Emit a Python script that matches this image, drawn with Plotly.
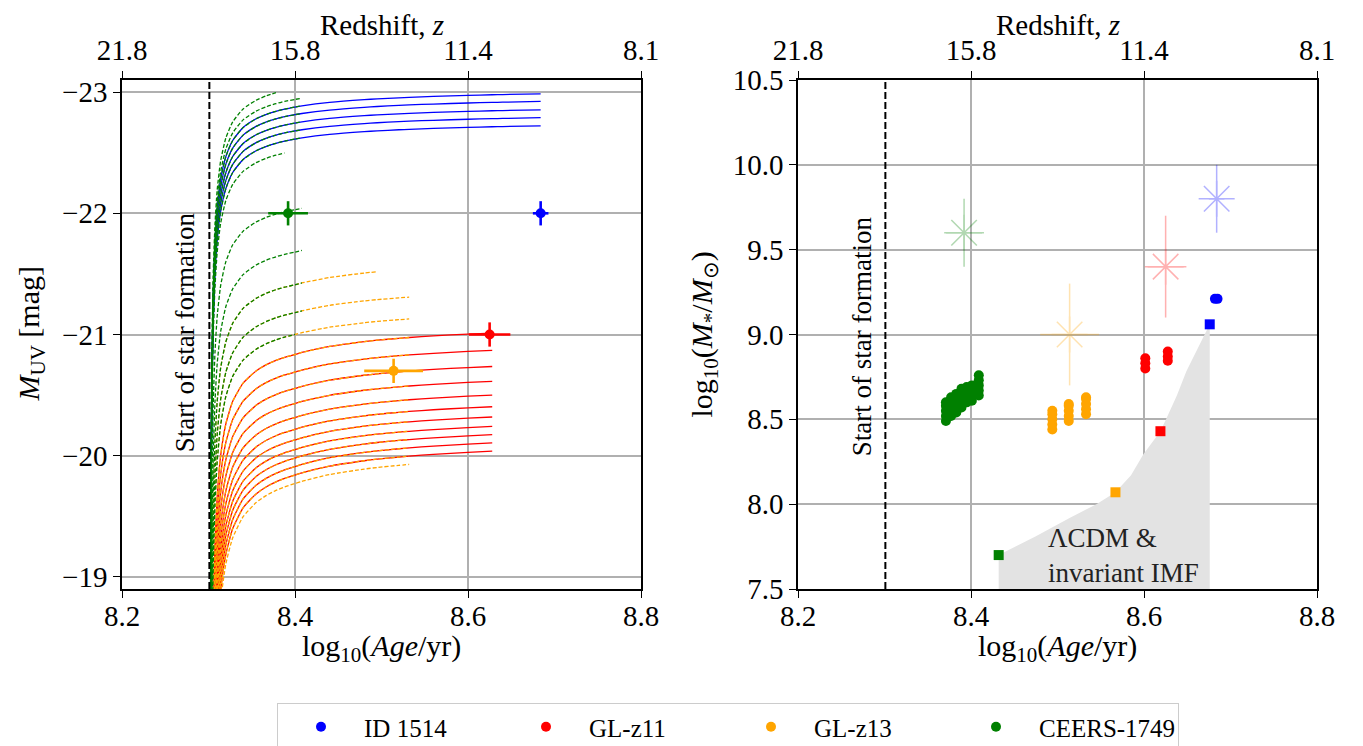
import plotly.graph_objects as go

# ---------------- data ----------------
# shared growth profile of the model tracks: magnitude offset vs log10(age), relative to log age 8.684
PROFILE_LOGAGE = [8.3014, 8.3020, 8.3028, 8.3040, 8.3055, 8.3075, 8.3100, 8.3140, 8.3200, 8.3280,
                  8.3400, 8.3550, 8.3670, 8.3780, 8.3880, 8.4000, 8.4080, 8.4400, 8.4800, 8.4950,
                  8.5200, 8.5320, 8.5600, 8.6000, 8.6280, 8.6400, 8.6840]
PROFILE_DMAG = [10.2, 5.25, 3.32, 2.24, 1.63, 1.23, 0.95, 0.707, 0.519, 0.385,
                0.278, 0.206, 0.169, 0.144, 0.126, 0.109, 0.0994, 0.0711, 0.0483, 0.0416,
                0.0327, 0.0289, 0.0214, 0.0127, 0.0079, 0.0061, 0.0]
REF_DMAG = 0.109  # profile value at log age 8.4

# model tracks: magnitude at log age 8.4, early (<8.4) / late (>8.4) stretch, end of track
BLUE_M84 = [-22.877, -22.814, -22.745, -22.68, -22.613]
BLUE_S_EARLY = [1.0, 1.0, 1.0, 1.0, 1.0]
BLUE_S_LATE = [1.0, 1.0, 1.0, 1.0, 1.0]
BLUE_END = [8.684, 8.684, 8.684, 8.684, 8.684]

GREEN_M84 = [-23.03, -22.94, -22.877, -22.814, -22.745, -22.68, -22.613, -22.515, -22.03, -21.68, -21.41, -21.18, -21.0]
GREEN_S_EARLY = [1.0, 1.0, 1.0, 1.0, 1.0, 1.0, 1.0, 1.0, 1.05, 1.1, 1.15, 1.2, 1.25]
GREEN_S_LATE = [1.0, 1.0, 1.0, 1.0, 1.0, 1.0, 1.0, 1.0, 1.2, 1.4, 1.6, 1.6, 1.6]
GREEN_END = [8.378, 8.408, 8.408, 8.408, 8.408, 8.408, 8.408, 8.388, 8.408, 8.408, 8.408, 8.408, 8.400]

RED_M84 = [-20.835, -20.69, -20.555, -20.43, -20.315, -20.217, -20.13, -20.05, -19.98, -19.91, -19.84]
RED_S_EARLY = [1.4, 1.42, 1.44, 1.46, 1.48, 1.5, 1.52, 1.54, 1.56, 1.58, 1.6]
RED_S_LATE = [1.75, 1.77, 1.79, 1.81, 1.83, 1.85, 1.87, 1.89, 1.91, 1.93, 1.95]
RED_END = [8.628] * 11

ORANGE_M84 = [-21.41, -21.18, -21.0, -20.835, -20.69, -20.555, -20.43, -20.315, -20.217, -20.13, -20.05, -19.98, -19.91, -19.84, -19.77]
ORANGE_S_EARLY = [1.15, 1.2, 1.25, 1.4, 1.42, 1.44, 1.46, 1.48, 1.5, 1.52, 1.54, 1.56, 1.58, 1.6, 1.62]
ORANGE_S_LATE = [1.6, 1.6, 1.6, 1.75, 1.77, 1.79, 1.81, 1.83, 1.85, 1.87, 1.89, 1.91, 1.93, 1.95, 1.97]
ORANGE_END = [8.495] + [8.532] * 14

# observed galaxies (left panel)
GALAXIES = ["ID 1514", "GL-z11", "GL-z13", "CEERS-1749"]
GAL_COLORS = ["#0000ff", "#ff0000", "#ffa500", "#008000"]
GAL_LOGAGE = [8.684, 8.625, 8.514, 8.392]
GAL_LOGAGE_ERR = [0.009, 0.024, 0.034, 0.023]
GAL_MUV = [-22.0, -21.0, -20.7, -22.0]
GAL_MUV_ERR = [0.1, 0.1, 0.1, 0.1]

# right panel: published stellar masses (faint asterisks)
PUB_MASS = [9.8, 9.4, 9.0, 9.6]
PUB_MASS_ERR = [0.2, 0.3, 0.3, 0.2]

# right panel: model stellar masses (circles)
BLUE_MASS_AGE = [8.682, 8.685]
BLUE_MASS = [9.21, 9.21]
RED_MASS_AGE = [8.6015, 8.6015, 8.6015, 8.6275, 8.6275, 8.6275]
RED_MASS = [8.80, 8.83, 8.86, 8.845, 8.87, 8.90]
ORANGE_MASS_AGE = [8.494] * 5 + [8.513] * 5 + [8.533] * 5
ORANGE_MASS = [8.44, 8.47, 8.50, 8.53, 8.55, 8.49, 8.52, 8.55, 8.58, 8.59, 8.53, 8.56, 8.59, 8.62, 8.63]
GREEN_MASS_AGE = [8.371] * 5 + [8.377] * 5 + [8.383] * 5 + [8.389] * 5 + [8.395] * 4 + [8.401] * 4 + [8.409] * 5
GREEN_MASS = [8.49, 8.52, 8.55, 8.58, 8.60,
              8.52, 8.55, 8.58, 8.61, 8.63,
              8.54, 8.57, 8.60, 8.63, 8.65,
              8.57, 8.60, 8.63, 8.66, 8.68,
              8.60, 8.63, 8.66, 8.69,
              8.61, 8.64, 8.67, 8.70,
              8.64, 8.67, 8.70, 8.73, 8.76]

# LCDM & invariant IMF limit (squares + shaded region)
LCDM_AGE = [8.432, 8.567, 8.619, 8.676]
LCDM_MASS = [7.70, 8.07, 8.43, 9.06]
LCDM_SQ_COLORS = ["#008000", "#ffa500", "#ff0000", "#0000ff"]
LIMIT_EDGE_AGE = [8.432, 8.4745, 8.5145, 8.545, 8.567, 8.585, 8.5993, 8.619, 8.6263, 8.638, 8.649, 8.663, 8.676]
LIMIT_EDGE_MASS = [7.70, 7.81, 7.92, 8.00, 8.07, 8.17, 8.294, 8.43, 8.509, 8.64, 8.784, 8.93, 9.06]

START_SF = 8.301
X_TICKS = [8.2, 8.4, 8.6, 8.8]
X_TICKTEXT = ["8.2", "8.4", "8.6", "8.8"]
Z_TICKTEXT = ["21.8", "15.8", "11.4", "8.1"]
MUV_TICKS = [-23, -22, -21, -20, -19]
MUV_TICKTEXT = ["\u221223", "\u221222", "\u221221", "\u221220", "\u221219"]
MASS_TICKS = [7.5, 8.0, 8.5, 9.0, 9.5, 10.0, 10.5]
MASS_TICKTEXT = ["7.5", "8.0", "8.5", "9.0", "9.5", "10.0", "10.5"]

FONT = "Liberation Serif, serif"
GRID = "#b0b0b0"

# page layout (the html page puts the figure 8 px from the window's top-left corner)
OFF = 8
W, H = 1363, 746
PLOT_L, PLOT_R, PLOT_T, PLOT_B = 122, 1317, 80, 589   # window pixels of the combined plot area
ML, MT = PLOT_L - OFF, PLOT_T - OFF
PW, PH = PLOT_R - PLOT_L, PLOT_B - PLOT_T
MR, MB = W - ML - PW, H - MT - PH


def px(xw):
    return (xw - PLOT_L) / PW


def py(yw):
    return (PLOT_B - yw) / PH


fig = go.Figure()


def track(m84, s_early, s_late, end):
    xs, ys = [], []
    for xv, dv in zip(PROFILE_LOGAGE, PROFILE_DMAG):
        if xv > end + 1e-9:
            break
        s = s_early if xv <= 8.4 else s_late
        xs.append(xv)
        ys.append(m84 + s * (dv - REF_DMAG))
    return xs, ys


def add_family(m84s, se, sl, ends, color, dash):
    for m, a, b, e in zip(m84s, se, sl, ends):
        xs, ys = track(m, a, b, e)
        fig.add_trace(go.Scatter(x=xs, y=ys, mode="lines",
                                 line=dict(color=color, width=1.3, dash=dash, shape="spline", smoothing=0.5),
                                 showlegend=False, hoverinfo="skip", xaxis="x", yaxis="y"))


add_family(BLUE_M84, BLUE_S_EARLY, BLUE_S_LATE, BLUE_END, "#0000ff", "solid")
add_family(RED_M84, RED_S_EARLY, RED_S_LATE, RED_END, "#ff0000", "solid")
add_family(ORANGE_M84, ORANGE_S_EARLY, ORANGE_S_LATE, ORANGE_END, "#ffa500", "4px,2px")
add_family(GREEN_M84, GREEN_S_EARLY, GREEN_S_LATE, GREEN_END, "#008000", "4px,2px")

# start of star formation lines
for xa, ya, yr in [("x", "y", [-18.9, -23.1]), ("x2", "y2", [7.5, 10.5])]:
    fig.add_trace(go.Scatter(x=[START_SF, START_SF], y=yr, mode="lines",
                             line=dict(color="black", width=2, dash="7px,3px"),
                             showlegend=False, hoverinfo="skip", xaxis=xa, yaxis=ya))

# observed galaxies (left)
for name, c, xa, xe, ym, ye in zip(GALAXIES, GAL_COLORS, GAL_LOGAGE, GAL_LOGAGE_ERR, GAL_MUV, GAL_MUV_ERR):
    fig.add_trace(go.Scatter(x=[xa], y=[ym], mode="markers", name=name,
                             marker=dict(color=c, size=10),
                             error_x=dict(type="data", array=[xe], color=c, thickness=2.6, width=0),
                             error_y=dict(type="data", array=[ye], color=c, thickness=2.6, width=0),
                             xaxis="x", yaxis="y"))

# shaded LCDM limit
fig.add_trace(go.Scatter(x=LIMIT_EDGE_AGE + [LIMIT_EDGE_AGE[-1], LIMIT_EDGE_AGE[0]],
                         y=LIMIT_EDGE_MASS + [7.5, 7.5], mode="lines", fill="toself",
                         fillcolor="#e3e3e3", line=dict(width=0),
                         showlegend=False, hoverinfo="skip", xaxis="x2", yaxis="y2"))

# published masses (faint asterisks)
for c, xa, xe, m, me in zip(GAL_COLORS, GAL_LOGAGE, GAL_LOGAGE_ERR, PUB_MASS, PUB_MASS_ERR):
    fig.add_trace(go.Scatter(x=[xa], y=[m], mode="markers", opacity=0.3,
                             marker=dict(symbol="asterisk-open", size=30, color=c, line=dict(color=c, width=1.5)),
                             error_x=dict(type="data", array=[xe], color=c, thickness=1.5, width=0),
                             error_y=dict(type="data", array=[me], color=c, thickness=1.5, width=0),
                             showlegend=False, hoverinfo="skip", xaxis="x2", yaxis="y2"))

# model masses (circles)
for xs, ys, c in [(GREEN_MASS_AGE, GREEN_MASS, "#008000"), (ORANGE_MASS_AGE, ORANGE_MASS, "#ffa500"),
                  (RED_MASS_AGE, RED_MASS, "#ff0000"), (BLUE_MASS_AGE, BLUE_MASS, "#0000ff")]:
    fig.add_trace(go.Scatter(x=xs, y=ys, mode="markers", marker=dict(color=c, size=10),
                             showlegend=False, hoverinfo="skip", xaxis="x2", yaxis="y2"))

# LCDM squares
fig.add_trace(go.Scatter(x=LCDM_AGE, y=LCDM_MASS, mode="markers",
                         marker=dict(symbol="square", size=10, color=LCDM_SQ_COLORS),
                         showlegend=False, hoverinfo="skip", xaxis="x2", yaxis="y2"))

# invisible traces to activate the top redshift axes
fig.add_trace(go.Scatter(x=[8.5], y=[-21], mode="markers", marker=dict(opacity=0), showlegend=False,
                         hoverinfo="skip", xaxis="x3", yaxis="y"))
fig.add_trace(go.Scatter(x=[8.5], y=[9], mode="markers", marker=dict(opacity=0), showlegend=False,
                         hoverinfo="skip", xaxis="x4", yaxis="y2"))

L_DOM = [0, px(641)]
R_DOM = [px(798), 1]

axis_common = dict(showline=True, linecolor="black", linewidth=1.6, ticks="outside", ticklen=7,
                   tickwidth=1.4, tickcolor="black", tickfont=dict(family=FONT, size=29, color="black"),
                   zeroline=False, automargin=False)
title_font = dict(family=FONT, size=30, color="black")

annotations = []
for xc in [(122 + 641) / 2, (798 + 1317) / 2]:
    annotations.append(dict(x=px(xc), y=py(25), xref="paper", yref="paper", text="Redshift, <i>z</i>",
                            showarrow=False, font=dict(family=FONT, size=29, color="black"),
                            xanchor="center", yanchor="middle"))
    annotations.append(dict(x=px(xc), y=py(648), xref="paper", yref="paper",
                            text="log<sub>10</sub>(<i>Age</i>/yr)",
                            showarrow=False, font=title_font, xanchor="center", yanchor="middle"))
annotations += [
    dict(x=px(30), y=0.5, xref="paper", yref="paper", text="<i>M</i><sub>UV</sub> [mag]", textangle=-90,
         showarrow=False, font=title_font, xanchor="center", yanchor="middle"),
    dict(x=px(703), y=0.5, xref="paper", yref="paper",
         text="log<sub>10</sub>(<i>M</i><sub>*</sub>/<i>M</i><sub>\u2299</sub>)", textangle=-90,
         showarrow=False, font=title_font, xanchor="center", yanchor="middle"),
    dict(x=8.273, y=-21.02, xref="x", yref="y", text="Start of star formation", textangle=-90,
         showarrow=False, font=dict(family=FONT, size=27, color="black")),
    dict(x=8.274, y=8.99, xref="x2", yref="y2", text="Start of star formation", textangle=-90,
         showarrow=False, font=dict(family=FONT, size=27, color="black")),
    dict(x=8.487, y=7.70, xref="x2", yref="y2", text="\u039bCDM &amp;<br>invariant IMF", align="left",
         xanchor="left", yanchor="middle", showarrow=False, font=dict(family=FONT, size=27, color="#222222")),
]

fig.update_layout(
    width=W, height=H, paper_bgcolor="white", plot_bgcolor="white",
    margin=dict(l=ML, r=MR, t=MT, b=MB, autoexpand=False),
    font=dict(family=FONT, color="black"),
    xaxis=dict(domain=L_DOM, range=[8.2, 8.8], anchor="y", tickvals=X_TICKS, ticktext=X_TICKTEXT,
               showgrid=True, gridcolor=GRID, gridwidth=1.5, mirror=True, ticklabelstandoff=-7, **axis_common),
    yaxis=dict(domain=[0, 1], range=[-18.9, -23.1], anchor="x", tickvals=MUV_TICKS, ticktext=MUV_TICKTEXT,
               showgrid=True, gridcolor=GRID, gridwidth=1.5, mirror=True, **axis_common),
    xaxis3=dict(range=[8.2, 8.8], overlaying="x", side="top", anchor="y", tickvals=X_TICKS,
                ticktext=Z_TICKTEXT, showgrid=False, **axis_common),
    xaxis2=dict(domain=R_DOM, range=[8.2, 8.8], anchor="y2", tickvals=X_TICKS, ticktext=X_TICKTEXT,
                showgrid=True, gridcolor=GRID, gridwidth=1.5, mirror=True, ticklabelstandoff=-7, **axis_common),
    yaxis2=dict(domain=[0, 1], range=[7.5, 10.5], anchor="x2", tickvals=MASS_TICKS, ticktext=MASS_TICKTEXT,
                showgrid=True, gridcolor=GRID, gridwidth=1.5, mirror=True, **axis_common),
    xaxis4=dict(range=[8.2, 8.8], overlaying="x2", side="top", anchor="y2", tickvals=X_TICKS,
                ticktext=Z_TICKTEXT, showgrid=False, **axis_common),
    legend=dict(orientation="h", x=px(277), xanchor="left", y=py(703), yanchor="top",
                bordercolor="#cccccc", borderwidth=1, font=dict(family=FONT, size=25, color="black"),
                entrywidth=134, entrywidthmode="pixels", itemwidth=76),
    annotations=annotations,
)

fig.write_html("out.html")
